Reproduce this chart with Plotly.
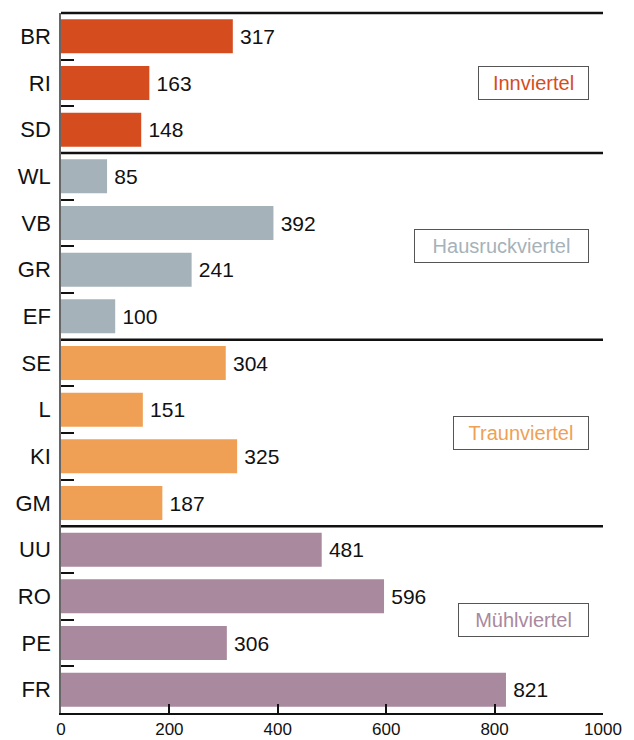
import plotly.graph_objects as go

# ---- data ----
groups = ["Innviertel", "Hausruckviertel", "Traunviertel", "Mühlviertel"]
group_codes = [
    ["BR", "RI", "SD"],
    ["WL", "VB", "GR", "EF"],
    ["SE", "L", "KI", "GM"],
    ["UU", "RO", "PE", "FR"],
]
group_values = [
    [317, 163, 148],
    [85, 392, 241, 100],
    [304, 151, 325, 187],
    [481, 596, 306, 821],
]
x_ticks = [0, 200, 400, 600, 800, 1000]

# ---- style ----
colors = ["#D54C1E", "#A6B2B9", "#F0A055", "#A8899E"]
FONT = "Helvetica, Liberation Sans, Arial, sans-serif"
box_widths = [99, 163, 124, 119]

categories = [c for g in group_codes for c in g]

fig = go.Figure()
for name, codes, vals, col in zip(groups, group_codes, group_values, colors):
    fig.add_trace(go.Bar(
        y=codes, x=vals, orientation="h", name=name,
        marker=dict(color=col, line=dict(width=0)),
        texttemplate="\u2009%{x}", textposition="outside",
        textfont=dict(size=21, color="#111", family=FONT),
        constraintext="none", cliponaxis=False,
        showlegend=False,
    ))

# separators and annotations
start = 0
shapes = [dict(type="line", xref="paper", yref="paper", x0=0, x1=1, y0=1, y1=1,
               line=dict(color="#111", width=2.5))]
annotations = []
for i, codes in enumerate(group_codes):
    end = start + len(codes)
    if i > 0:
        shapes.append(dict(type="line", xref="paper", yref="y", x0=0, x1=1,
                           y0=start - 0.5, y1=start - 0.5,
                           line=dict(color="#111", width=2.5)))
    annotations.append(dict(
        xref="x", yref="y", x=974, y=(start + end - 1) / 2,
        xanchor="right", yanchor="middle", showarrow=False,
        text=groups[i], font=dict(size=20, color=colors[i], family=FONT),
        bordercolor="#555", borderwidth=1, borderpad=5, bgcolor="white",
        width=box_widths[i],
    ))
    start = end

# the page places the figure 8px from the top-left corner
fig.update_layout(
    width=626, height=732,
    margin=dict(l=53, r=31, t=5, b=27),
    plot_bgcolor="white", paper_bgcolor="white",
    bargap=0.27, barmode="overlay",
    shapes=shapes, annotations=annotations,
    font=dict(family=FONT, color="#111"),
)
fig.update_xaxes(
    range=[0, 1000], tickvals=x_ticks, ticktext=[str(t) for t in x_ticks],
    ticks="inside", ticklen=9, tickwidth=2, tickcolor="#111",
    showline=True, linecolor="#111", linewidth=2, automargin=False,
    showgrid=False, zeroline=False, tickfont=dict(size=17, color="#111"),
)
fig.update_yaxes(
    categoryorder="array", categoryarray=categories,
    range=[len(categories) - 0.5, -0.5],
    ticks="inside", tickson="boundaries", ticklen=13, tickwidth=2, tickcolor="#111",
    showline=True, linecolor="#666", linewidth=1.5, automargin=False,
    ticklabelstandoff=4,
    showgrid=False, zeroline=False, tickfont=dict(size=22, color="#111"),
)

fig.write_html("out.html")
